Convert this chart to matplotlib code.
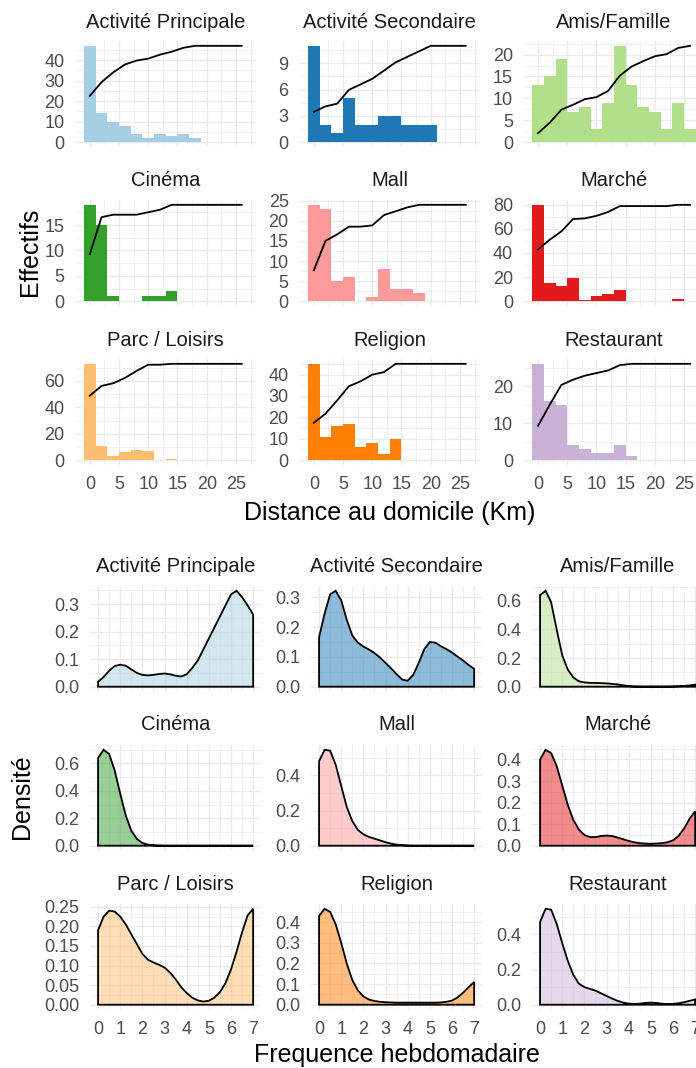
import numpy as np
import matplotlib
matplotlib.use("Agg")
import matplotlib.pyplot as plt
from matplotlib.ticker import FixedLocator, FormatStrFormatter

plt.rcParams['font.family'] = ['Liberation Sans', 'DejaVu Sans']

# ---- donnees ----
categories = ["Activité Principale", "Activité Secondaire", "Amis/Famille",
              "Cinéma", "Mall", "Marché",
              "Parc / Loisirs", "Religion", "Restaurant"]
couleurs = ['#A6CEE3', '#1F78B4', '#B2DF8A', '#33A02C', '#FB9A99',
            '#E31A1C', '#FDBF6F', '#FF7F00', '#CAB2D6']

# histogrammes (classes de 2 km centrees sur 0, 2, ..., 26)
centres = [0, 2, 4, 6, 8, 10, 12, 14, 16, 18, 20, 22, 24, 26]
eff_act_princ = [47, 14, 10, 8, 4, 2, 4, 3, 4, 2, 0, 0, 0, 0]
eff_act_sec = [11, 2, 1, 5, 2, 2, 3, 3, 2, 2, 2, 0, 0, 0]
eff_amis = [13, 15, 19, 7, 8, 3, 9, 22, 13, 8, 7, 3, 9, 3]
eff_cinema = [19, 15, 1, 0, 0, 1, 1, 2, 0, 0, 0, 0, 0, 0]
eff_mall = [24, 23, 5, 6, 0, 1, 8, 3, 3, 2, 0, 0, 0, 0]
eff_marche = [80, 15, 13, 19, 1, 4, 6, 9, 0, 0, 0, 0, 2, 0]
eff_parc = [73, 11, 3, 6, 8, 7, 0, 1, 0, 0, 0, 0, 0, 0]
eff_religion = [45, 11, 16, 17, 6, 8, 3, 10, 0, 0, 0, 0, 0, 0]
eff_resto = [26, 16, 15, 4, 3, 2, 2, 4, 1, 0, 0, 0, 0, 0]

yticks_hist = [[0, 10, 20, 30, 40], [0, 3, 6, 9], [0, 5, 10, 15, 20],
               [0, 5, 10, 15], [0, 5, 10, 15, 20, 25], [0, 20, 40, 60, 80],
               [0, 20, 40, 60], [0, 10, 20, 30, 40], [0, 10, 20]]
xticks_hist = [0, 5, 10, 15, 20, 25]

# densites lues tous les 0.25 entre 0 et 7
freq = [0, 0.25, 0.5, 0.75, 1, 1.25, 1.5, 1.75, 2, 2.25, 2.5, 2.75, 3, 3.25, 3.5,
        3.75, 4, 4.25, 4.5, 4.75, 5, 5.25, 5.5, 5.75, 6, 6.25, 6.5, 6.75, 7]
dens_act_princ = [0.018, 0.035, 0.058, 0.075, 0.080, 0.076, 0.063, 0.050, 0.043, 0.041,
                  0.043, 0.046, 0.048, 0.045, 0.040, 0.037, 0.045, 0.068, 0.095, 0.135,
                  0.175, 0.215, 0.255, 0.295, 0.335, 0.348, 0.325, 0.295, 0.262]
dens_act_sec = [0.166, 0.245, 0.31, 0.322, 0.29, 0.225, 0.172, 0.148, 0.135, 0.125,
                0.113, 0.098, 0.08, 0.062, 0.042, 0.024, 0.02, 0.04, 0.08, 0.126,
                0.15, 0.148, 0.136, 0.126, 0.115, 0.101, 0.088, 0.073, 0.06]
dens_amis = [0.64, 0.67, 0.59, 0.40, 0.22, 0.12, 0.065, 0.038, 0.03, 0.027,
             0.026, 0.025, 0.023, 0.02, 0.016, 0.01, 0.004, 0.002, 0.001, 0.001,
             0.001, 0.001, 0.001, 0.001, 0.002, 0.003, 0.005, 0.009, 0.014]
dens_cinema = [0.64, 0.70, 0.67, 0.55, 0.38, 0.22, 0.11, 0.05, 0.02, 0.008,
               0.003, 0.001, 0, 0, 0, 0, 0, 0, 0, 0,
               0, 0, 0, 0, 0, 0, 0, 0, 0]
dens_mall = [0.48, 0.545, 0.54, 0.46, 0.34, 0.22, 0.14, 0.09, 0.065, 0.05,
             0.04, 0.03, 0.02, 0.012, 0.006, 0.003, 0.001, 0, 0, 0,
             0, 0, 0, 0, 0, 0, 0, 0, 0]
dens_marche = [0.40, 0.445, 0.43, 0.37, 0.28, 0.19, 0.12, 0.075, 0.05, 0.04,
               0.04, 0.045, 0.047, 0.045, 0.038, 0.03, 0.022, 0.016, 0.012, 0.01,
               0.009, 0.01, 0.012, 0.016, 0.025, 0.045, 0.08, 0.125, 0.16]
dens_parc = [0.19, 0.225, 0.24, 0.238, 0.225, 0.205, 0.18, 0.155, 0.13, 0.115,
             0.108, 0.102, 0.095, 0.082, 0.065, 0.045, 0.03, 0.018, 0.011, 0.008,
             0.01, 0.018, 0.032, 0.055, 0.09, 0.135, 0.185, 0.228, 0.245]
dens_religion = [0.43, 0.465, 0.45, 0.39, 0.30, 0.20, 0.12, 0.07, 0.04, 0.025,
                 0.018, 0.014, 0.012, 0.011, 0.01, 0.01, 0.01, 0.01, 0.01, 0.01,
                 0.01, 0.01, 0.011, 0.014, 0.02, 0.035, 0.058, 0.085, 0.11]
dens_resto = [0.47, 0.545, 0.54, 0.46, 0.35, 0.25, 0.17, 0.12, 0.10, 0.09,
              0.08, 0.065, 0.05, 0.035, 0.022, 0.012, 0.006, 0.004, 0.006, 0.01,
              0.012, 0.01, 0.006, 0.004, 0.005, 0.008, 0.014, 0.022, 0.03]

yticks_dens = [[0, 0.1, 0.2, 0.3], [0, 0.1, 0.2, 0.3], [0, 0.2, 0.4, 0.6],
               [0, 0.2, 0.4, 0.6], [0, 0.2, 0.4], [0, 0.1, 0.2, 0.3, 0.4],
               [0, 0.05, 0.10, 0.15, 0.20, 0.25], [0, 0.1, 0.2, 0.3, 0.4], [0, 0.2, 0.4]]
xticks_dens = [0, 1, 2, 3, 4, 5, 6, 7]

effectifs = [eff_act_princ, eff_act_sec, eff_amis, eff_cinema, eff_mall,
             eff_marche, eff_parc, eff_religion, eff_resto]
densites = [dens_act_princ, dens_act_sec, dens_amis, dens_cinema, dens_mall,
            dens_marche, dens_parc, dens_religion, dens_resto]

# ---- mise en page ----
W, H = 696, 1068
fig = plt.figure(figsize=(W / 100, H / 100), dpi=100)
fig.patch.set_facecolor('white')

GRIS_TXT = '#4D4D4D'
GRIS_GRILLE = '#EBEBEB'


def panneau(left, top, width, height):
    ax = fig.add_axes([left / W, 1 - (top + height) / H, width / W, height / H])
    for s in ax.spines.values():
        s.set_visible(False)
    ax.set_facecolor('none')
    ax.tick_params(which='both', length=0, labelsize=13, labelcolor=GRIS_TXT, pad=8)
    ax.grid(which='major', color=GRIS_GRILLE, lw=1.0, zorder=0)
    ax.grid(which='minor', color=GRIS_GRILLE, lw=0.5, zorder=0)
    ax.set_axisbelow(True)
    return ax


def mineurs(ticks):
    pas = ticks[1] - ticks[0]
    return [t + pas / 2 for t in [ticks[0] - pas] + list(ticks)]


# histogrammes du haut
lefts_h = [75.8, 299.8, 524]
tops_h = [41, 200, 359]
for i, cat in enumerate(categories):
    r, c = divmod(i, 3)
    ax = panneau(lefts_h[c], tops_h[r], 180, 106)
    eff = np.array(effectifs[i])
    ax.bar(centres, eff, width=2, color=couleurs[i], zorder=2)
    cumul = np.cumsum(eff) / eff.sum() * eff.max()
    ax.plot(centres, cumul, color='black', lw=1.3, zorder=3)
    ymax = eff.max()
    ax.set_xlim(-2.4, 28.4)
    ax.set_ylim(-0.05 * ymax, 1.05 * ymax)
    ax.xaxis.set_major_locator(FixedLocator(xticks_hist))
    ax.xaxis.set_minor_locator(FixedLocator(mineurs(xticks_hist)))
    ax.yaxis.set_major_locator(FixedLocator(yticks_hist[i]))
    ax.yaxis.set_minor_locator(FixedLocator(mineurs(yticks_hist[i])))
    if r < 2:
        ax.set_xticklabels([])
    ax.text(0.5, 1.0 + 19 / 106, cat, transform=ax.transAxes, ha='center',
            va='center', fontsize=14.5, color='#1A1A1A')

fig.text(390 / W, 1 - 513 / H, "Distance au domicile (Km)", ha='center',
         va='center', fontsize=18)
fig.text(30 / W, 1 - 252 / H, "Effectifs", ha='center', va='center',
         rotation=90, fontsize=18)

# densites du bas
lefts_d = [90.3, 311.3, 532.3]
tops_d = [586, 745, 904]
for i, cat in enumerate(categories):
    r, c = divmod(i, 3)
    ax = panneau(lefts_d[c], tops_d[r], 170.6, 105.5)
    d = np.array(densites[i])
    xs = np.concatenate([[freq[0]], freq, [freq[-1]]])
    ys = np.concatenate([[0], d, [0]])
    ax.fill(xs, ys, facecolor=couleurs[i], alpha=0.5, edgecolor='none', zorder=2)
    ax.fill(xs, ys, facecolor='none', edgecolor='black', lw=1.3, zorder=3)
    ymax = d.max()
    ax.set_xlim(-0.35, 7.35)
    ax.set_ylim(-0.05 * ymax, 1.05 * ymax)
    ax.xaxis.set_major_locator(FixedLocator(xticks_dens))
    ax.xaxis.set_minor_locator(FixedLocator(mineurs(xticks_dens)))
    ax.yaxis.set_major_locator(FixedLocator(yticks_dens[i]))
    ax.yaxis.set_minor_locator(FixedLocator(mineurs(yticks_dens[i])))
    ax.yaxis.set_major_formatter(FormatStrFormatter('%.2f' if i == 6 else '%.1f'))
    if r < 2:
        ax.set_xticklabels([])
    ax.text(0.5, 1.0 + 20 / 105.5, cat, transform=ax.transAxes, ha='center',
            va='center', fontsize=14.5, color='#1A1A1A')

fig.text(397 / W, 1 - 1055 / H, "Frequence hebdomadaire", ha='center',
         va='center', fontsize=18)
fig.text(22 / W, 1 - 797 / H, "Densité", ha='center', va='center',
         rotation=90, fontsize=18)

fig.savefig("out.png", dpi=100)
